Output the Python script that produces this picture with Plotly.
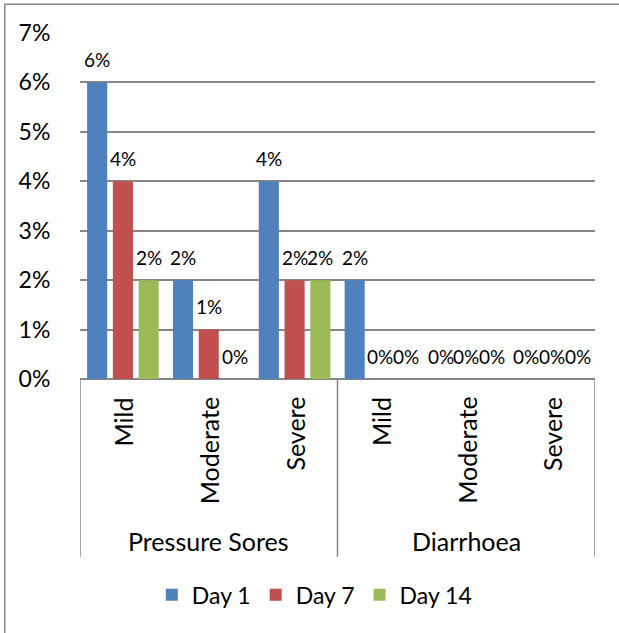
import plotly.graph_objects as go

groups = ["Pressure Sores", "Diarrhoea"]
severities = ["Mild", "Moderate", "Severe"]
series_names = ["Day 1", "Day 7", "Day 14"]
day1 = [0.06, 0.02, 0.04, 0.02, 0.0, 0.0]
day7 = [0.04, 0.01, 0.02, 0.0, 0.0, 0.0]
day14 = [0.02, 0.0, 0.02, 0.0, 0.0, 0.0]
y_ticks = [0, 0.01, 0.02, 0.03, 0.04, 0.05, 0.06, 0.07]
colors = ["#4F81BD", "#C0504D", "#9BBB59"]

FONT = "Lato"
series = [day1, day7, day14]
n_cat = len(groups) * len(severities)
xpos = list(range(n_cat))
cat_labels = [s for g in groups for s in severities]
BARGAP = 0.10

fig = go.Figure()
for name, vals, col in zip(series_names, series, colors):
    fig.add_trace(go.Bar(x=xpos, y=vals, name=name, marker=dict(color=col, line=dict(width=0))))

# data labels
slot = (1 - BARGAP) / len(series)
for k, vals in enumerate(series):
    off = (k - (len(series) - 1) / 2) * slot
    for i, v in enumerate(vals):
        fig.add_annotation(x=xpos[i] + off, y=v, xref="x", yref="y", text=f"{v*100:.0f}%",
                           showarrow=False, yanchor="middle", yshift=23,
                           font=dict(family=FONT, size=19, color="#000"))

# category labels
for i, lab in enumerate(cat_labels):
    fig.add_annotation(x=xpos[i], y=0, xref="x", yref="y", text=lab, textangle=-90,
                       showarrow=False, yanchor="top", xanchor="center", yshift=-16,
                       font=dict(family=FONT, size=25, color="#000"))
for gi, g in enumerate(groups):
    center = gi * len(severities) + (len(severities) - 1) / 2
    fig.add_annotation(x=center, y=0, xref="x", yref="y", text=g, showarrow=False,
                       yanchor="middle", yshift=-162, font=dict(family=FONT, size=25, color="#000"))

# category box lines
for gi in range(len(groups) + 1):
    xv = gi * len(severities) - 0.5
    fig.add_shape(type="line", xref="x", yref="paper", x0=xv, x1=xv, y0=0, y1=-0.514,
                  line=dict(color="#868686", width=1.5))

# outer border (left & top visible)
fig.add_shape(type="rect", xref="paper", yref="paper", x0=-0.146, x1=1.2, y0=0.999 + 29/346, y1=-1.5,
              line=dict(color="#868686", width=1.5), layer="below")

fig.update_layout(
    width=619, height=633,
    margin=dict(l=80, r=24, t=33, b=254),
    paper_bgcolor="white", plot_bgcolor="white",
    barmode="group", bargap=BARGAP, bargroupgap=0.22,
    showlegend=True,
    legend=dict(orientation="h", x=0.455, xanchor="center", y=-0.624, yanchor="middle",
                font=dict(family=FONT, size=23, color="#000"), traceorder="normal"),
    font=dict(family=FONT, color="#000"),
    xaxis=dict(range=[-0.5, n_cat - 0.5], showticklabels=False, showgrid=False,
               zeroline=False, showline=False, ticks=""),
    yaxis=dict(range=[0, 0.07], tickvals=y_ticks, tickformat=".0%", showgrid=True,
               gridcolor="#868686", gridwidth=1.5, zeroline=True, zerolinecolor="#868686",
               zerolinewidth=1.5, ticks="outside", ticklen=24, tickcolor="rgba(0,0,0,0)",
               tickfont=dict(family=FONT, size=23, color="#000"), showline=False),
)

fig.write_html("out.html")
